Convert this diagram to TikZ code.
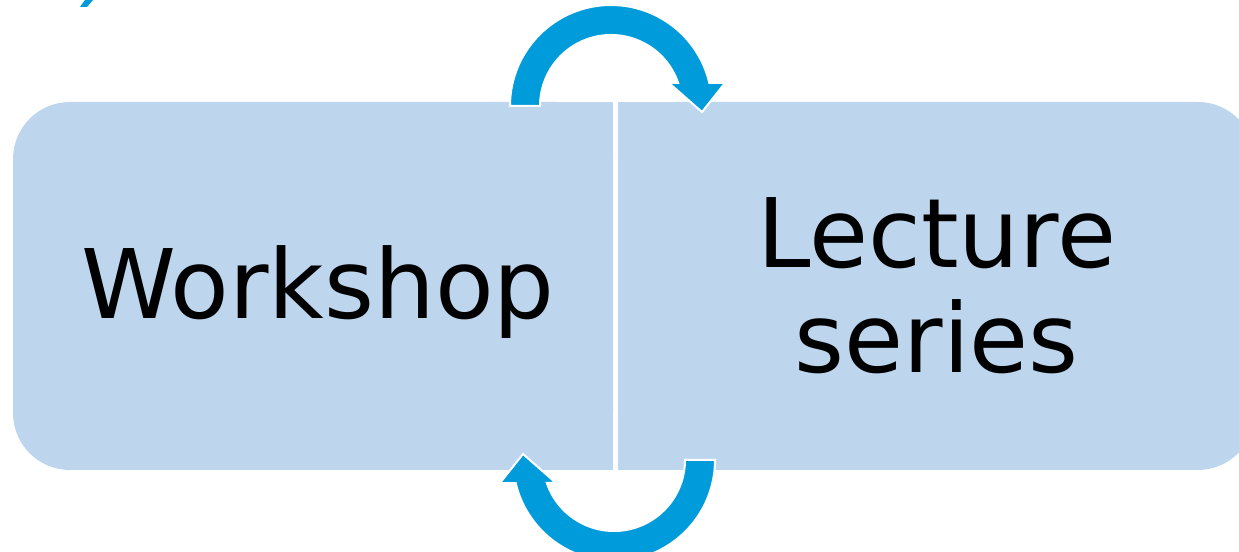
\documentclass[tikz,border=0pt]{standalone}
\usepackage{fontspec}
\setmainfont{DejaVu Sans}
\usetikzlibrary{positioning}
\definecolor{boxfill}{RGB}{189,214,238}
\definecolor{turnblue}{RGB}{0,155,219}
\tikzset{
  box/.style={fill=boxfill, rounded corners=28.5pt, minimum height=184pt, inner sep=0pt},
  boxtext/.style={font=\fontsize{48}{52.5}\selectfont, align=center, inner sep=0pt},
  turn/.pic={
    \fill[turnblue, draw=white, line width=1pt]
      (180:101) arc[start angle=180, end angle=13.2, radius=101]
      -- (114,23) -- (91,-6) -- (58,23)
      -- (18.9:71) arc[start angle=18.9, end angle=180, radius=71] -- cycle;
  }
}

\begin{document}
\begin{tikzpicture}[x=0.5pt, y=0.5pt]
  \useasboundingbox (0,0) rectangle (1239,552);
  \clip (0,0) rectangle (1239,552);
  % the two boxes
  \node[box, minimum width=300pt] (workshop) at (313,266) {};
  \node[box, minimum width=318pt, right=2.5pt of workshop] (lectures) {};
  \fill[boxfill] ([xshift=-30pt]workshop.south east) rectangle (workshop.north east);
  \fill[boxfill] (lectures.south west) rectangle ([xshift=30pt]lectures.north west);
  \node[boxtext] at ([xshift=2.5pt, yshift=-3pt]workshop.center) {Workshop};
  \node[boxtext] at (lectures.center) {Lecture\\series};
  % turning arrows
  \coordinate (topturn) at (611,446);
  \coordinate (bottomturn) at (614,92);
  \pic at (topturn) {turn};
  \pic[rotate=180] at (bottomturn) {turn};
  % cut-off mark, top left
  \fill[turnblue] (85,552) -- (93,552) -- (87,545) -- (80,545) -- cycle;
\end{tikzpicture}
\end{document}
